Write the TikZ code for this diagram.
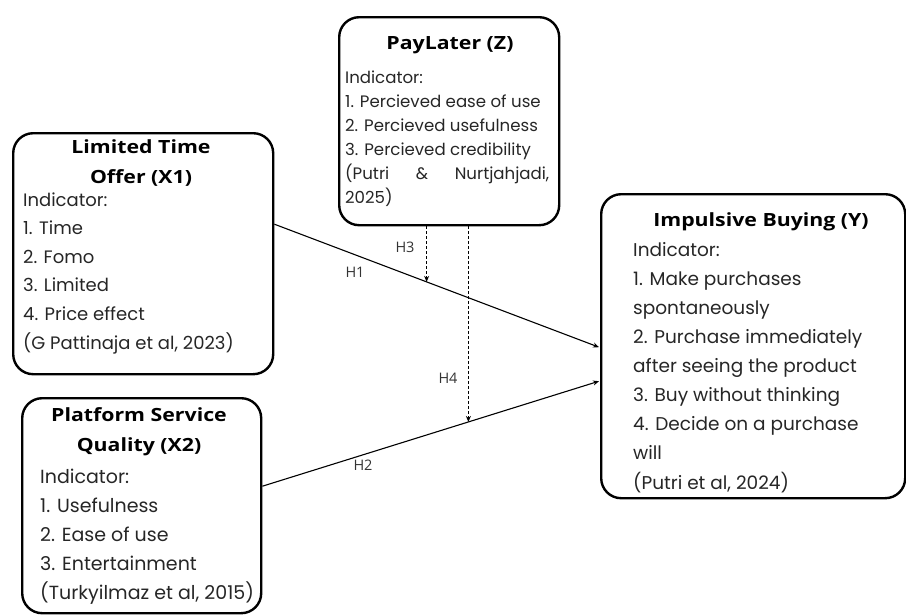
\documentclass[tikz,border=0pt]{standalone}
\usepackage{fontspec}
\setmainfont{Poppins}
\newfontfamily\headfont{Open Sans}[FakeStretch=1.17]
\newfontfamily\labfont{Open Sans}
\usetikzlibrary{arrows.meta,calc}
\begin{document}
\begin{tikzpicture}[x=1pt,y=-1pt,
  box/.style={draw, line width=2.4pt, rounded corners=20pt, anchor=north west, inner sep=0pt},
  head/.style={font=\headfont\bfseries\fontsize{18.2}{30}\selectfont, anchor=base, align=center, inner sep=0pt},
  body/.style={font=\fontsize{19}{28.8}\selectfont, text=black!85, anchor=base west, align=left, inner sep=0pt},
  bodyx/.style={body, font=\fontsize{18}{28.6}\selectfont},
  bodyy/.style={body, font=\fontsize{18.5}{29.1}\selectfont},
  bodyz/.style={body, font=\fontsize{16.6}{24}\selectfont},
  hlab/.style={font=\labfont\fontsize{14.5}{16}\selectfont, text=black!80, inner sep=0pt},
  arr/.style={line width=1.1pt, -{Stealth[length=6pt,width=5pt]}},
  darr/.style={arr, dash pattern=on 3pt off 2pt}]
\useasboundingbox (0,0) rectangle (906,616);
% boxes
\node[box, minimum width=260pt, minimum height=241pt] (x1) at (12,132) {};
\node[box, minimum width=239pt, minimum height=215pt] (x2) at (21,397) {};
\node[box, minimum width=220pt, minimum height=208pt] (z) at (338,16) {};
\node[box, minimum width=304pt, minimum height=304pt] (y) at (600,193) {};
% X1 text (base = last line)
\node[head] (x1h) at (141,183) {Limited Time\\Offer (X1)};
\node[bodyx] (x1b) at (23,349) {Indicator:\\1. Time\\2. Fomo\\3. Limited\\4. Price effect\\(G Pattinaja et al, 2023)};
% X2 text
\node[head] (x2h) at (139,451) {Platform Service\\Quality (X2)};
\node[body] (x2b) at (40,599) {Indicator:\\1. Usefulness\\2. Ease of use\\3. Entertainment\\(Turkyilmaz et al, 2015)};
% Z text
\node[head] (zh) at (450,49) {PayLater (Z)};
\node[bodyz] (zb) at (345,203) {Indicator:\\1. Percieved ease of use\\2. Percieved usefulness\\3. Percieved credibility\\\makebox[204pt][s]{(Putri \& Nurtjahjadi,}\\2025)};
% Y text
\node[head] (yh) at (761,226) {Impulsive Buying (Y)};
\node[bodyy] (yb) at (633,489) {Indicator:\\1. Make purchases\\spontaneously\\2. Purchase immediately\\after seeing the product\\3. Buy without thinking\\4. Decide on a purchase\\will\\(Putri et al, 2024)};
% connectors
\coordinate (h1s) at ($(x1.east)+(0,-29.5)$);
\coordinate (h1e) at ($(y.west)+(-1,1)$);
\coordinate (h2s) at ($(x2.east)+(0,-19.5)$);
\coordinate (h2e) at ($(y.west)+(-1,35)$);
\draw[arr] (h1s) -- (h1e);
\draw[arr] (h2s) -- (h2e);
\coordinate (h3t) at ($(h1s)!0.469!(h1e)$);
\coordinate (h4t) at ($(h2s)!0.612!(h2e)$);
\draw[darr] (z.south -| h3t) -- (h3t);
\draw[darr] (z.south -| h4t) -- (h4t);
% labels
\node[hlab] (lh1) at (355,272) {H1};
\node[hlab] (lh2) at (363,465) {H2};
\node[hlab] (lh3) at (405,247) {H3};
\node[hlab] (lh4) at (448,378) {H4};
\end{tikzpicture}
\end{document}
